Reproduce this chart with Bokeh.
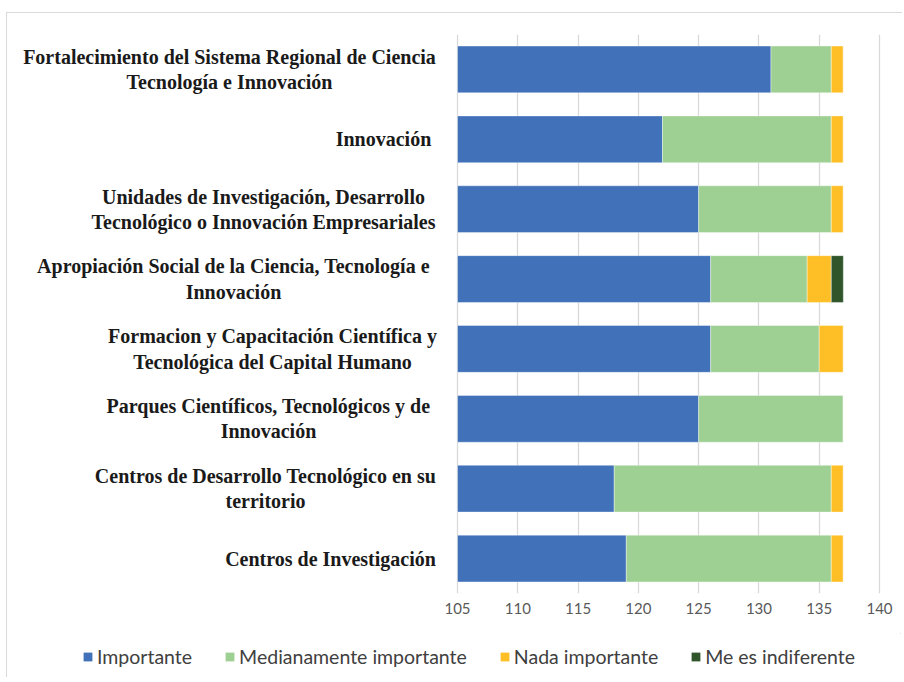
import numpy as np
from bokeh.plotting import figure
from bokeh.layouts import column
from bokeh.models import (ColumnDataSource, FactorRange, Range1d, FixedTicker,
                          Legend, LegendItem)
from bokeh.core.properties import value
from bokeh.embed import file_html
from bokeh.resources import INLINE

# ---------------- data ----------------
categories = [
    "Fortalecimiento del Sistema Regional de Ciencia Tecnología e Innovación",
    "Innovación",
    "Unidades de Investigación, Desarrollo Tecnológico o Innovación Empresariales",
    "Apropiación Social de la Ciencia, Tecnología e Innovación",
    "Formacion y Capacitación Científica y Tecnológica del Capital Humano",
    "Parques Científicos, Tecnológicos y de Innovación",
    "Centros de Desarrollo Tecnológico en su territorio",
    "Centros de Investigación",
]
category_labels = [
    "Fortalecimiento del Sistema Regional de Ciencia\nTecnología e Innovación",
    "Innovación",
    "Unidades de Investigación, Desarrollo\nTecnológico o Innovación Empresariales",
    "Apropiación Social de la Ciencia, Tecnología e\nInnovación",
    "Formacion y Capacitación Científica y\nTecnológica del Capital Humano",
    "Parques Científicos, Tecnológicos y de\nInnovación",
    "Centros de Desarrollo Tecnológico en su\nterritorio",
    "Centros de Investigación",
]
importante = [131, 122, 125, 126, 126, 125, 118, 119]
medianamente = [5, 14, 11, 8, 9, 12, 18, 17]
nada = [1, 1, 1, 2, 2, 0, 1, 1]
indiferente = [0, 0, 0, 1, 0, 0, 0, 0]
series_names = ["Importante", "Medianamente importante", "Nada importante", "Me es indiferente"]
x_ticks = [105, 110, 115, 120, 125, 130, 135, 140]

# ---------------- styles / layout ----------------
colors = ["#4071B9", "#9DD092", "#FEBF26", "#30552A"]
AXIS_MIN, AXIS_MAX = 105, 140
W = 895
MAIN_H, LEG_H = 620, 44
FRAME_LEFT_PAGE, AXIS_MIN_PAGE, AXIS_MAX_PAGE, FRAME_RIGHT_PAGE = 13, 457, 879, 900
PPU = (AXIS_MAX_PAGE - AXIS_MIN_PAGE) / (AXIS_MAX - AXIS_MIN)
x_start = AXIS_MIN - (AXIS_MIN_PAGE - FRAME_LEFT_PAGE) / PPU
x_end = AXIS_MIN + (FRAME_RIGHT_PAGE - AXIS_MIN_PAGE) / PPU
label_center_page = [229, 383, 263, 233, 272, 268, 265, 330]

p = figure(width=W, height=MAIN_H, output_backend="svg", toolbar_location=None,
           x_range=Range1d(x_start, x_end),
           y_range=FactorRange(factors=categories[::-1], range_padding=0),
           min_border_left=6, min_border_right=2, min_border_top=21,
           min_border_bottom=40)
p.outline_line_color = None
p.background_fill_color = "white"
p.border_fill_color = "white"

# stacked bars, clipped at axis minimum like the original chart
series = [importante, medianamente, nada, indiferente]
cum = np.zeros(len(categories))
for vals, col in zip(series, colors):
    left = cum.copy()
    right = cum + np.array(vals, dtype=float)
    cum = right
    src = ColumnDataSource(dict(cat=categories,
                                left=np.maximum(left, AXIS_MIN),
                                right=np.maximum(right, AXIS_MIN)))
    p.hbar(y="cat", left="left", right="right", height=0.67, source=src,
           fill_color=col, line_color="white", line_alpha=0.5, line_width=0.8)

# category labels
label_x = [AXIS_MIN - (AXIS_MIN_PAGE - cx) / PPU for cx in label_center_page]
lab_src = ColumnDataSource(dict(x=label_x, y=categories, text=category_labels))
p.text(x="x", y="y", text="text", source=lab_src,
       text_font=value("Liberation Serif"), text_font_style="bold",
       text_font_size="20px", text_align="center", text_baseline="middle",
       text_color="#1a1a1a", text_line_height=1.15)

# axes / grid
p.yaxis.visible = False
p.ygrid.visible = False
p.xaxis.ticker = FixedTicker(ticks=x_ticks)
p.xgrid.ticker = FixedTicker(ticks=x_ticks)
p.xgrid.grid_line_color = "#D9D9D9"
p.xgrid.grid_line_width = 1.3
p.xaxis.axis_line_color = None
p.xaxis.major_tick_line_color = None
p.xaxis.minor_tick_line_color = None
p.xaxis.major_label_standoff = 3
p.xaxis.major_label_text_font = "Lato"
p.xaxis.major_label_text_font_size = "15px"
p.xaxis.major_label_text_color = "#595959"

# legend strip (separate small figure; its swatch renderers lie outside its view)
lg = figure(width=W, height=LEG_H, output_backend="svg", toolbar_location=None,
            x_range=Range1d(0, 1), y_range=Range1d(0, 1),
            x_axis_location=None, y_axis_location=None,
            min_border_left=0, min_border_right=0, min_border_top=0,
            min_border_bottom=0)
lg.outline_line_color = None
lg.xgrid.visible = False
lg.ygrid.visible = False
items = []
for name, col in zip(series_names, colors):
    r = lg.hbar(y=[5], left=[5], right=[6], height=1, fill_color=col, line_color=None)
    items.append(LegendItem(label=name, renderers=[r]))
legend = Legend(items=items, orientation="horizontal", location=(69, 9))
legend.border_line_color = None
legend.background_fill_alpha = 0
legend.padding = 0
legend.margin = 0
legend.spacing = 32
legend.glyph_width = 11
legend.glyph_height = 11
legend.label_standoff = 4
legend.label_text_font = "Lato"
legend.label_text_font_size = "19.5px"
legend.label_text_color = "#404040"
lg.add_layout(legend)

layout = column(p, lg, spacing=0)
layout.margin = (12, 0, 0, 6)
layout.styles = {"border-left": "1px solid #D9D9D9", "border-top": "1px solid #D9D9D9"}

open("out.html", "w").write(file_html(layout, INLINE, "chart"))
